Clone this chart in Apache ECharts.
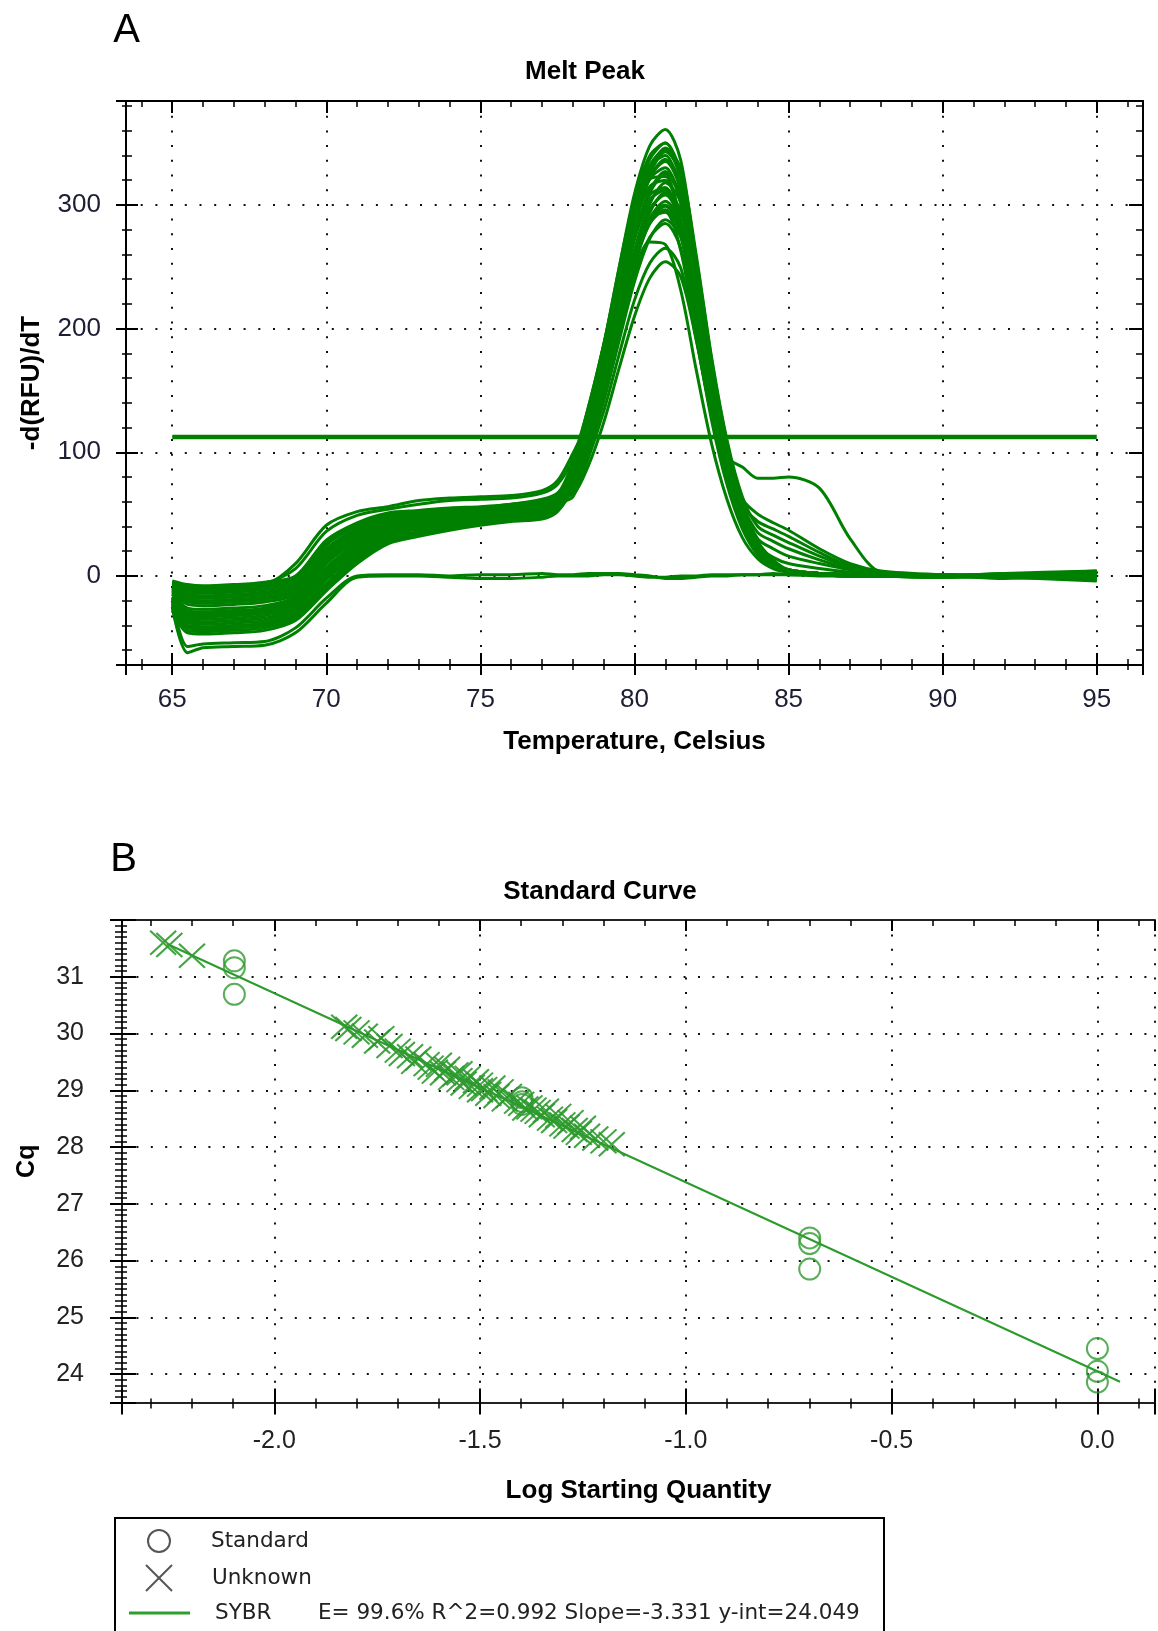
<!DOCTYPE html>
<html><head><meta charset="utf-8">
<script src="https://cdn.jsdelivr.net/npm/echarts@6/dist/echarts.min.js"></script>
<style>html,body{margin:0;padding:0;background:#fff}#c{width:1158px;height:1631px}</style>
</head><body><div id="c"></div>
<script>
// ================= Panel A : Melt Peak =================
const meltTemps = [65,65.5,66,67,68,69,70,71,72,73,74,75,76,77,77.5,78,78.5,79,79.5,80,80.5,81,81.5,82,82.5,83,83.5,84,84.5,85,86,87,88,90,92,95];
const melt01 = [-4,-7,-8,-7,-5,0,29,43,51,53,55,56,58,62,67, 84,124,173,231,286,323,335,312,235,154,92,49,22,10,4, 2,1,0,1,0,2];
const melt02 = [-5,-9,-10,-9,-7,-2,27,42,49,52,54,55,58,61,66, 92,136,187,249,305,340,350,319,238,155,92,48,22,10,4, 2,1,1,0,-1,1];
const melt03 = [-7,-11,-12,-11,-9,-4,25,40,48,51,53,55,57,60,66, 73,107,150,202,251,286,299,281,217,145,92,62,50,43,37, 22,10,4,1,0,-2];
const melt04 = [-8,-13,-14,-13,-11,-6,22,38,47,50,52,54,56,60,65, 81,119,168,226,284,325,343,326,257,175,108,59,28,13,5, 2,1,0,0,1,3];
const melt05 = [-9,-15,-16,-15,-13,-8,20,36,46,48,51,53,55,59,64, 87,127,175,230,279,308,314,281,207,135,79,41,18,8,3, 1,1,0,-1,0,-1];
const melt06 = [-10,-17,-18,-17,-15,-9,18,35,44,47,50,52,55,58,63, 90,134,186,249,309,348,361,336,253,166,99,52,23,11,4, 2,1,0,0,2,4];
const melt07 = [-11,-19,-20,-19,-17,-11,16,33,43,46,49,51,54,57,62, 68,100,141,190,238,273,288,274,216,147,92,58,44,38,32, 19,8,3,0,1,0];
const melt08 = [-13,-21,-22,-21,-19,-13,14,31,42,45,48,51,53,56,62, 79,117,164,220,275,312,327,307,237,159,96,52,24,11,5, 2,1,0,1,-1,-3];
const melt09 = [-14,-23,-24,-23,-21,-15,12,29,40,44,47,50,52,55,61, 90,132,182,241,296,331,340,310,231,151,90,47,21,10,4, 2,1,0,0,0,2];
const melt10 = [-15,-26,-27,-26,-24,-17,10,28,39,43,47,49,52,55,60, 77,114,159,213,263,297,308,286,216,142,85,45,20,9,4, 1,1,0,0,-1,1];
const melt11 = [-17,-28,-29,-28,-26,-19,7,26,38,42,46,48,51,54,59, 81,120,169,228,286,327,346,329,260,177,110,64,40,33,27, 16,7,2,0,0,3];
const melt12 = [-18,-30,-31,-30,-28,-21,5,24,36,41,45,47,50,53,58, 89,130,179,235,285,315,320,287,212,137,81,42,19,8,3, 1,0,0,1,0,-2];
const melt13 = [-19,-32,-33,-32,-30,-23,3,22,35,40,44,47,49,52,58, 74,110,152,204,253,285,296,275,207,136,81,43,19,9,4, 2,1,0,0,1,-1];
const melt14 = [-20,-34,-35,-34,-32,-25,1,21,34,39,43,46,48,51,57, 82,121,169,227,283,322,337,317,244,164,99,53,25,11,5, 2,1,0,0,-1,0];
const melt15 = [-22,-36,-37,-36,-34,-27,-1,19,33,38,42,45,48,50,56, 73,108,152,204,256,294,310,295,233,158,98,58,35,28,22, 13,6,2,0,0,1];
const melt16 = [-23,-38,-39,-38,-36,-28,-3,17,31,36,41,44,47,49,55, 87,128,177,234,288,321,330,301,224,147,87,45,20,9,4, 2,1,0,0,2,-3];
const melt17 = [-24,-40,-41,-40,-38,-30,-6,15,30,35,40,43,46,49,54, 74,109,152,204,255,289,303,285,220,147,89,48,22,10,4, 1,1,0,-1,0,2];
const melt18 = [-25,-42,-43,-42,-40,-32,-8,14,29,34,39,43,46,48,54, 86,128,178,238,295,332,345,321,242,159,95,50,22,10,4, 2,1,0,0,1,4];
const melt19 = [-26,-44,-45,-44,-42,-34,-10,12,27,33,38,42,45,47,53, 75,111,156,210,263,301,318,302,239,163,100,57,30,22,16, 10,5,2,0,-1,-4];
const melt20 = [-28,-46,-47,-46,-44,-36,-12,10,26,32,37,41,44,46,52, 71,105,147,197,244,274,285,265,200,131,78,41,19,9,3, 1,0,0,1,0,-2];
const melt21 = [-17,-29,-30,-29,-27,-20,6,25,37,41,45,48,50,53,59, 64,95,133,179,223,253,265,249,192,129,80,45,24,15,10, 6,3,1,0,0,2];
const melt22 = [-10,-16,-17,-16,-14,-9,19,35,45,48,51,53,55,58,64, 66,89,124,168,210,241,254,242,191,130,80,44,21,9,4, 2,1,0,0,-1,1];
const melt23 = [-8,-12,-13,-12,-8,10,41,52,56,61,63,64,65,69,77, 99,125,163,210,248,270,268,231,167,107,62,31,14,6,3, 1,0,0,0,1,-1];
const melt24 = [-6,-9,-10,-9,-6,6,36,49,54,58,61,62,63,67,74, 95,136,187,244,293,321,323,284,207,133,78,40,18,8,3, 1,1,0,0,0,1];
const melt25 = [-12,-20,-21,-20,-18,-12,15,32,42,45,48,50,53,56,61, 75,111,155,207,257,289,300,279,210,140,96,88,79,79,80, 71,30,3,0,0,1];
const melt26 = [-6,-10,-11,-10,-8,-3,26,41,49,51,53,55,57,61,66, 79,117,163,219,273,310,325,305,236,158,96,52,24,11,5, 2,1,0,0,1,-1];
const melt27 = [-12,-20,-21,-20,-18,-12,15,32,42,46,49,51,53,56,62, 82,121,167,222,272,304,312,285,212,139,82,43,19,9,3, 1,1,0,-1,0,2];
const melt28 = [-18,-31,-32,-31,-29,-22,4,23,36,40,44,47,50,53,58, 88,130,180,242,299,337,350,326,245,161,96,51,23,10,4, 2,1,0,0,-2,3];
const melt29 = [-25,-41,-42,-41,-39,-31,-7,14,29,34,39,43,46,48,54, 82,119,164,215,261,289,294,263,194,126,74,38,17,8,3, 1,0,0,0,1,-1];
const meltNtc1 = [-25,-62,-58,-57,-56,-46,-22,-1,0,0,-1,-2,-2,-1,0, 0,0,1,1,0,-1,-1,0,0,1,1,1,1,1,1, 0,0,0,0,1,2];
const meltNtc2 = [-20,-57,-55,-54,-53,-42,-18,0,1,1,0,1,1,2,1, 1,2,2,2,1,0,-2,-2,-1,0,0,1,1,2,1, 1,0,0,0,0,1];
const meltCurves = [melt01,melt02,melt03,melt04,melt05,melt06,melt07,melt08,melt09,melt10,melt11,melt12,melt13,
  melt14,melt15,melt16,melt17,melt18,melt19,melt20,melt21,melt22,melt23,melt24,melt25,melt26,melt27,melt28,melt29,
  meltNtc1,meltNtc2];
const meltThreshold = 112.4;
const meltThresholdTemps = [65, 95];
const meltXTickLabels = [65,70,75,80,85,90,95];
const meltYTickLabels = [0,100,200,300];

// ================= Panel B : Standard Curve =================
const standardLogQty = [-2.097,-2.097,-2.097,-1.398,-1.398,-1.398,-0.699,-0.699,-0.699,0,0,0];
const standardCq = [31.28,31.16,30.69,28.87,28.80,28.75,26.40,26.30,25.85,24.45,24.05,23.86];
const unknownLogQty = [-2.27,-2.255,-2.20,-1.83,-1.82,-1.80,-1.78,-1.75,-1.74,-1.72,-1.70,-1.69,-1.67,-1.66,-1.65,-1.63,-1.62,-1.61,-1.60,-1.59,-1.58,-1.57,-1.56,-1.55,-1.55,-1.54,-1.53,-1.52,-1.51,-1.50,-1.50,-1.49,-1.48,-1.47,-1.46,-1.45,-1.44,-1.43,-1.41,-1.40,-1.39,-1.38,-1.37,-1.36,-1.35,-1.34,-1.33,-1.32,-1.31,-1.30,-1.29,-1.28,-1.27,-1.26,-1.25,-1.24,-1.22,-1.20,-1.18];
const unknownCq = [31.60,31.56,31.37,30.12,30.08,30.02,29.96,29.86,29.92,29.78,29.70,29.64,29.60,29.50,29.56,29.46,29.40,29.33,29.45,29.30,29.38,29.22,29.28,29.18,29.30,29.12,29.22,29.06,29.16,29.00,29.10,29.02,28.94,29.05,28.90,28.98,28.84,28.90,28.80,28.76,28.68,28.70,28.66,28.62,28.56,28.64,28.50,28.46,28.55,28.40,28.36,28.44,28.30,28.25,28.34,28.20,28.15,28.10,28.05];
const fitSlope = -3.331;
const fitIntercept = 24.049;
const fitEfficiency = 99.6;
const fitR2 = 0.992;
const fitLogQtyRange = [-2.26, 0.055];
const stdXTickLabels = [-2.0,-1.5,-1.0,-0.5,0.0];
const stdYTickLabels = [24,25,26,27,28,29,30,31];

// ================= Styling =================
const GREEN = '#008000';
const FONT = 'Liberation Sans';
const onList = (list) => (v) => list.some(t => Math.abs(t - v) < 1e-6);
const dotted = (period) => ({ show: true, lineStyle: { type: [2, period], color: '#111', width: 2 } });
const tickLine = { color: '#000', width: 2 };
const minorLine = { color: '#000', width: 1.5 };

const A_X = { min: 63.5, max: 96.5, minInterval: 5, maxInterval: 5, splitNumber: 7 };
const A_Y = { min: -72, max: 384, minInterval: 100, maxInterval: 100, splitNumber: 5 };
const B_X = { min: -2.37, max: 0.14, minInterval: 0.5, maxInterval: 0.5, splitNumber: 5 };
const B_Y = { min: 23.5, max: 32, minInterval: 1, maxInterval: 1, splitNumber: 8 };

const xAxes = [
  Object.assign({ gridIndex: 0, type: 'value', position: 'bottom',
    axisLine: { onZero: false, lineStyle: { color: '#000', width: 2 } },
    axisTick: { inside: false, length: 10, lineStyle: tickLine },
    minorTick: { show: true, splitNumber: 5, length: 5, lineStyle: minorLine },
    axisLabel: { margin: 22, fontSize: 26, fontFamily: FONT, color: '#1d1d33',
      formatter: v => onList(meltXTickLabels)(v) ? String(Math.round(v)) : '' },
    splitLine: dotted(12.7),
    name: 'Temperature, Celsius', nameLocation: 'middle', nameGap: 64,
    nameTextStyle: { fontSize: 26, fontWeight: 'bold', fontFamily: FONT, color: '#000' } }, A_X),
  Object.assign({ gridIndex: 0, type: 'value', position: 'bottom',
    axisLine: { show: false, onZero: false }, axisLabel: { show: false }, splitLine: { show: false },
    axisTick: { inside: true, length: 12, lineStyle: tickLine },
    minorTick: { show: true, splitNumber: 5, length: 6, lineStyle: minorLine } }, A_X),
  Object.assign({ gridIndex: 0, type: 'value', position: 'top',
    axisLine: { onZero: false, lineStyle: { color: '#000', width: 2 } }, axisLabel: { show: false }, splitLine: { show: false },
    axisTick: { inside: true, length: 12, lineStyle: tickLine },
    minorTick: { show: true, splitNumber: 5, length: 6, lineStyle: minorLine } }, A_X),
  Object.assign({ gridIndex: 1, type: 'value', position: 'bottom',
    axisLine: { onZero: false, lineStyle: { color: '#222', width: 2 } },
    axisTick: { inside: false, length: 12, lineStyle: tickLine },
    minorTick: { show: true, splitNumber: 5, length: 6, lineStyle: minorLine },
    axisLabel: { margin: 26, fontSize: 25, fontFamily: FONT, color: '#222',
      formatter: v => onList(stdXTickLabels)(v) ? v.toFixed(1) : '' },
    splitLine: dotted(12.4),
    name: 'Log Starting Quantity', nameLocation: 'middle', nameGap: 75,
    nameTextStyle: { fontSize: 26, fontWeight: 'bold', fontFamily: FONT, color: '#000' } }, B_X),
  Object.assign({ gridIndex: 1, type: 'value', position: 'bottom',
    axisLine: { show: false, onZero: false }, axisLabel: { show: false }, splitLine: { show: false },
    axisTick: { inside: true, length: 14, lineStyle: tickLine },
    minorTick: { show: true, splitNumber: 5, length: 4, lineStyle: minorLine } }, B_X),
  Object.assign({ gridIndex: 1, type: 'value', position: 'top',
    axisLine: { onZero: false, lineStyle: { color: '#222', width: 2 } }, axisLabel: { show: false }, splitLine: { show: false },
    axisTick: { inside: true, length: 11, lineStyle: tickLine },
    minorTick: { show: true, splitNumber: 5, length: 6, lineStyle: minorLine } }, B_X)
];

const yAxes = [
  Object.assign({ gridIndex: 0, type: 'value', position: 'left',
    axisLine: { onZero: false, lineStyle: { color: '#000', width: 2 } },
    axisTick: { inside: false, length: 10, lineStyle: tickLine },
    minorTick: { show: true, splitNumber: 5, length: 4, lineStyle: minorLine },
    axisLabel: { margin: 25, fontSize: 26, fontFamily: FONT, color: '#1d1d33',
      formatter: v => onList(meltYTickLabels)(v) ? String(Math.round(v)) : '' },
    splitLine: dotted(12.7),
    name: '-d(RFU)/dT', nameLocation: 'middle', nameGap: 81, nameRotate: 90,
    nameTextStyle: { fontSize: 26, fontWeight: 'bold', fontFamily: FONT, color: '#000' } }, A_Y),
  Object.assign({ gridIndex: 0, type: 'value', position: 'left',
    axisLine: { show: false, onZero: false }, axisLabel: { show: false }, splitLine: { show: false },
    axisTick: { inside: true, length: 12, lineStyle: tickLine },
    minorTick: { show: true, splitNumber: 5, length: 6, lineStyle: minorLine } }, A_Y),
  Object.assign({ gridIndex: 0, type: 'value', position: 'right',
    axisLine: { onZero: false, lineStyle: { color: '#000', width: 2 } }, axisLabel: { show: false }, splitLine: { show: false },
    axisTick: { inside: true, length: 14, lineStyle: tickLine },
    minorTick: { show: true, splitNumber: 5, length: 7, lineStyle: minorLine } }, A_Y),
  Object.assign({ gridIndex: 1, type: 'value', position: 'left',
    axisLine: { onZero: false, lineStyle: { color: '#222', width: 2 } },
    axisTick: { inside: false, length: 12, lineStyle: tickLine },
    minorTick: { show: true, splitNumber: 10, length: 7, lineStyle: minorLine },
    axisLabel: { margin: 38, fontSize: 25, fontFamily: FONT, color: '#222',
      formatter: v => onList(stdYTickLabels)(v) ? String(Math.round(v)) : '' },
    splitLine: dotted(12.4),
    name: 'Cq', nameLocation: 'middle', nameGap: 82, nameRotate: 90,
    nameTextStyle: { fontSize: 25, fontWeight: 'bold', fontFamily: FONT, color: '#000' } }, B_Y),
  Object.assign({ gridIndex: 1, type: 'value', position: 'left',
    axisLine: { show: false, onZero: false }, axisLabel: { show: false }, splitLine: { show: false },
    axisTick: { inside: true, length: 14, lineStyle: tickLine },
    minorTick: { show: true, splitNumber: 10, length: 5, lineStyle: minorLine } }, B_Y)
];

const series = [];
meltCurves.forEach((arr) => {
  series.push({
    type: 'line', xAxisIndex: 0, yAxisIndex: 0, silent: true, showSymbol: false, smooth: 0.3,
    data: meltTemps.map((t, i) => [t, arr[i]]),
    lineStyle: { color: GREEN, width: 3 }, z: 3
  });
});
series.push({
  type: 'line', xAxisIndex: 0, yAxisIndex: 0, silent: true, showSymbol: false,
  data: meltThresholdTemps.map(t => [t, meltThreshold]),
  lineStyle: { color: GREEN, width: 4.5 }, z: 4
});
series.push({
  name: 'SYBR', type: 'line', xAxisIndex: 3, yAxisIndex: 3, silent: true, showSymbol: false,
  data: fitLogQtyRange.map(x => [x, fitIntercept + fitSlope * x]),
  lineStyle: { color: '#2b9b2b', width: 2 }, z: 3
});
series.push({
  name: 'Unknown', type: 'scatter', xAxisIndex: 3, yAxisIndex: 3, silent: true,
  symbol: 'path://M0,0L10,10M10,0L0,10', symbolSize: [26, 24],
  data: unknownLogQty.map((x, i) => [x, unknownCq[i]]),
  itemStyle: { color: 'rgba(0,0,0,0)', borderColor: '#2f9a2f', borderWidth: 2, opacity: 0.9 }, z: 4
});
series.push({
  name: 'Standard', type: 'scatter', xAxisIndex: 3, yAxisIndex: 3, silent: true,
  symbol: 'circle', symbolSize: 21,
  data: standardLogQty.map((x, i) => [x, standardCq[i]]),
  itemStyle: { color: 'rgba(0,0,0,0)', borderColor: '#2e9a2e', borderWidth: 2 }, z: 5
});

const legendFont = { fontFamily: 'DejaVu Sans', fontSize: 21.5, fill: '#222' };
const graphic = [
  { type: 'text', x: 126.5, y: 31, style: { text: 'A', fontFamily: FONT, fontSize: 40, fill: '#000', align: 'center', verticalAlign: 'middle' } },
  { type: 'text', x: 585, y: 72, style: { text: 'Melt Peak', fontFamily: FONT, fontWeight: 'bold', fontSize: 26, fill: '#000', align: 'center', verticalAlign: 'middle' } },
  { type: 'text', x: 123.5, y: 860, style: { text: 'B', fontFamily: FONT, fontSize: 40, fill: '#000', align: 'center', verticalAlign: 'middle' } },
  { type: 'text', x: 600, y: 892, style: { text: 'Standard Curve', fontFamily: FONT, fontWeight: 'bold', fontSize: 26, fill: '#000', align: 'center', verticalAlign: 'middle' } },
  { type: 'rect', shape: { x: 115, y: 1518, width: 769, height: 200 }, style: { fill: 'none', stroke: '#000', lineWidth: 2 } },
  { type: 'circle', shape: { cx: 159, cy: 1541, r: 11 }, style: { fill: 'none', stroke: '#555', lineWidth: 2 } },
  { type: 'line', shape: { x1: 146, y1: 1565, x2: 172, y2: 1591 }, style: { stroke: '#555', lineWidth: 2 } },
  { type: 'line', shape: { x1: 172, y1: 1565, x2: 146, y2: 1591 }, style: { stroke: '#555', lineWidth: 2 } },
  { type: 'line', shape: { x1: 129, y1: 1613, x2: 190, y2: 1613 }, style: { stroke: '#2ca02c', lineWidth: 3 } },
  { type: 'text', x: 211, y: 1541, style: Object.assign({ text: 'Standard', verticalAlign: 'middle' }, legendFont) },
  { type: 'text', x: 212, y: 1578, style: Object.assign({ text: 'Unknown', verticalAlign: 'middle' }, legendFont) },
  { type: 'text', x: 215, y: 1613, style: Object.assign({ text: 'SYBR', verticalAlign: 'middle' }, legendFont) },
  { type: 'text', x: 318, y: 1613, style: Object.assign({ text: 'E= ' + fitEfficiency.toFixed(1) + '% R^2=' + fitR2.toFixed(3) + ' Slope=' + fitSlope.toFixed(3) + ' y-int=' + fitIntercept.toFixed(3), verticalAlign: 'middle' }, legendFont) }
];

const chart = echarts.init(document.getElementById('c'), null, { renderer: 'canvas' });
chart.setOption({
  animation: false,
  backgroundColor: '#fff',
  textStyle: { fontFamily: FONT },
  grid: [
    { left: 126, top: 101, width: 1017, height: 564, containLabel: false },
    { left: 122, top: 920, width: 1034, height: 482.5, containLabel: false }
  ],
  xAxis: xAxes,
  yAxis: yAxes,
  series: series,
  graphic: graphic
});
</script></body></html>
